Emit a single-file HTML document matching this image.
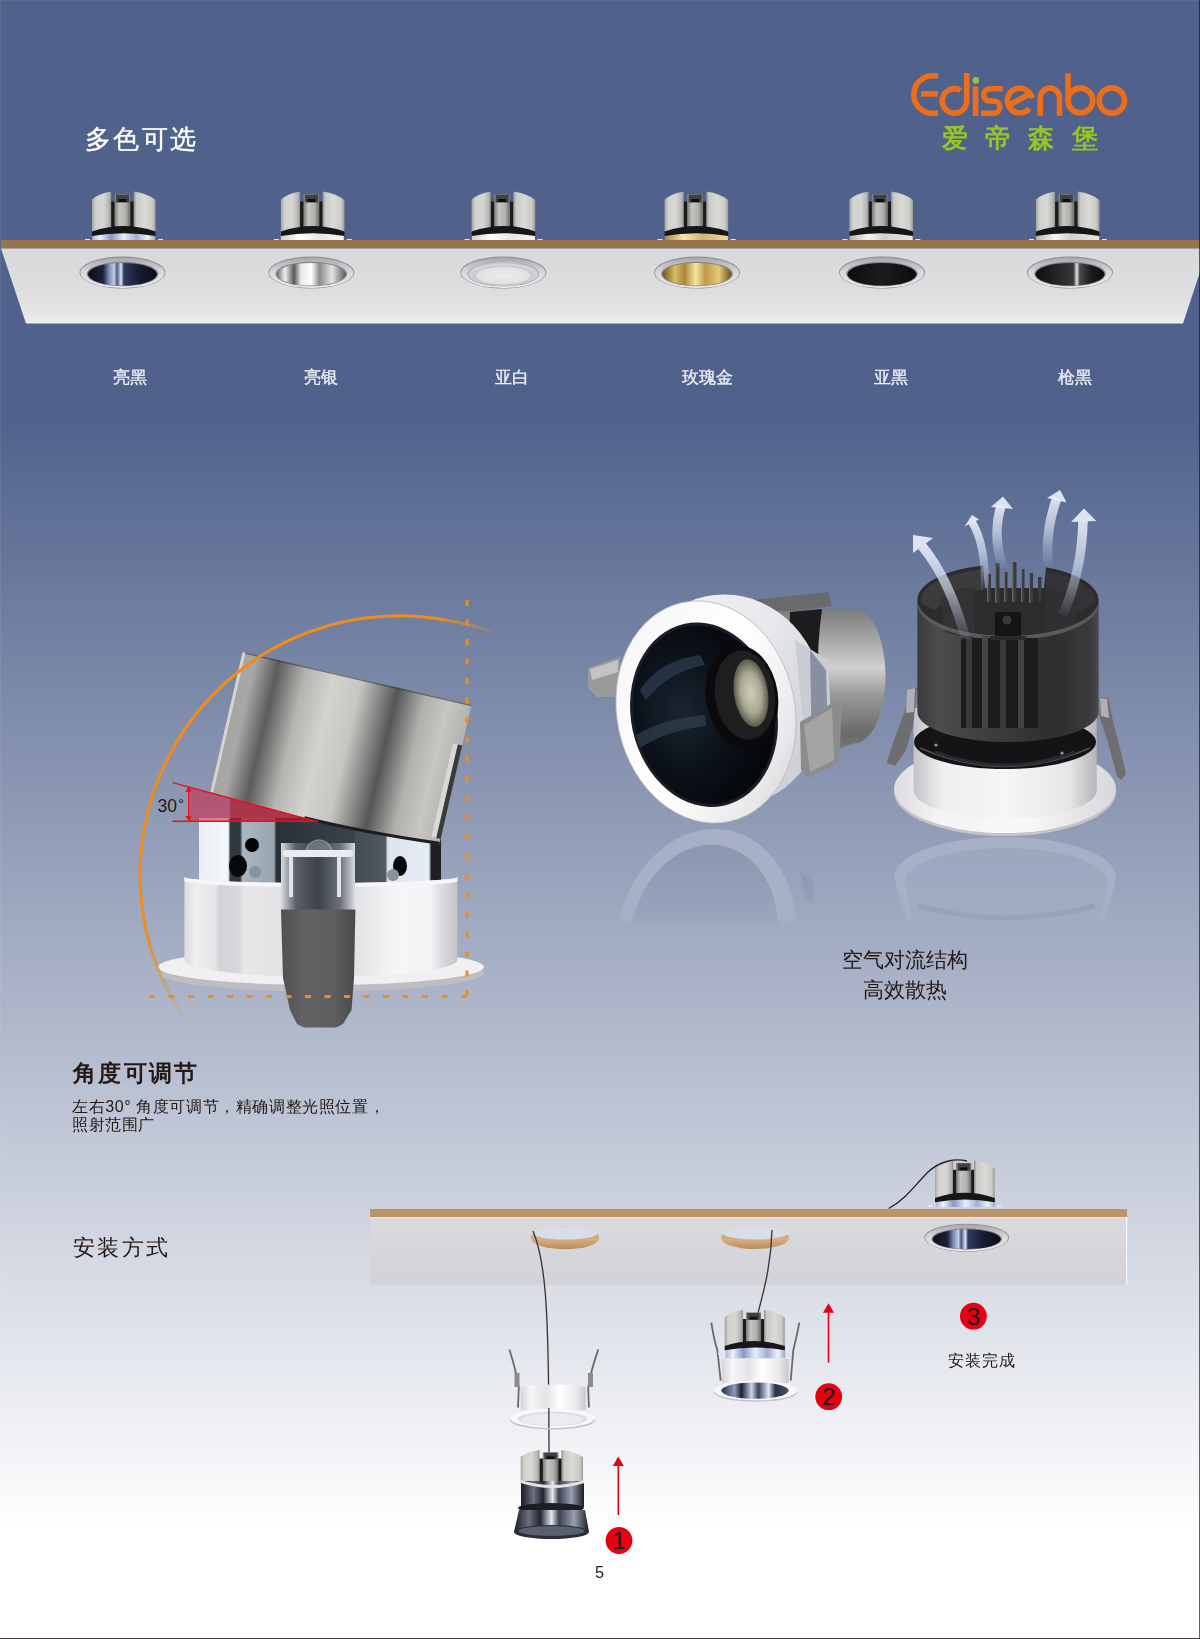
<!DOCTYPE html>
<html><head><meta charset="utf-8">
<style>
html,body{margin:0;padding:0;}
body{width:1200px;height:1639px;overflow:hidden;position:relative;font-family:"Liberation Sans",sans-serif;
background:linear-gradient(180deg,#50628c 0px,#50628c 415px,#ffffff 1530px,#ffffff 1639px);}
svg{position:absolute;left:0;top:0;}
.t{position:absolute;white-space:nowrap;line-height:1;}
.lab{font-size:17px;color:#eceef4;-webkit-text-stroke:0.35px #eceef4;}
</style></head>
<body>
<svg width="1200" height="1639" viewBox="0 0 1200 1639">
<defs>
  <linearGradient id="panelG" x1="0" y1="0" x2="0" y2="1">
    <stop offset="0" stop-color="#d9d9dc"/><stop offset="0.6" stop-color="#dedee1"/><stop offset="0.93" stop-color="#e8e8ea"/><stop offset="1" stop-color="#f0f0f2"/>
  </linearGradient>
  <linearGradient id="panel2G" x1="0" y1="0" x2="0" y2="1">
    <stop offset="0" stop-color="#dad9de"/><stop offset="1" stop-color="#d3d2d7"/>
  </linearGradient>
  <linearGradient id="cylG" x1="0" y1="0" x2="1" y2="0">
    <stop offset="0" stop-color="#8e8e8a"/><stop offset="0.12" stop-color="#dcdcd8"/><stop offset="0.3" stop-color="#b4b4b0"/>
    <stop offset="0.36" stop-color="#6a6a68"/><stop offset="0.64" stop-color="#6a6a68"/>
    <stop offset="0.7" stop-color="#b8b8b4"/><stop offset="0.85" stop-color="#dcdcd8"/><stop offset="1" stop-color="#8e8e8a"/>
  </linearGradient>
  <linearGradient id="rimG" x1="0" y1="0" x2="0" y2="1">
    <stop offset="0" stop-color="#a8a8ac"/><stop offset="0.45" stop-color="#d6d6da"/><stop offset="1" stop-color="#ececee"/>
  </linearGradient>
  <linearGradient id="tiltG" x1="0" y1="0" x2="1" y2="0">
    <stop offset="0" stop-color="#a4a4a2"/><stop offset="0.06" stop-color="#a8a8a6"/><stop offset="0.16" stop-color="#5c5c5e"/><stop offset="0.28" stop-color="#b4b4b0"/>
    <stop offset="0.4" stop-color="#d2d2ce"/><stop offset="0.52" stop-color="#c6c6c2"/><stop offset="0.68" stop-color="#565658"/><stop offset="0.8" stop-color="#b0b0ac"/>
    <stop offset="0.9" stop-color="#c6c6c2"/><stop offset="1" stop-color="#b2b2b0"/>
  </linearGradient>
  <linearGradient id="whiteRingG" x1="0" y1="0" x2="1" y2="0">
    <stop offset="0" stop-color="#dcdce0"/><stop offset="0.04" stop-color="#eeeef0"/><stop offset="0.11" stop-color="#e6e6e8"/><stop offset="0.13" stop-color="#d2d2d6"/>
    <stop offset="0.2" stop-color="#d8d8dc"/><stop offset="0.22" stop-color="#e8e8ea"/><stop offset="0.35" stop-color="#e2e2e4"/><stop offset="0.62" stop-color="#e2e2e4"/>
    <stop offset="0.78" stop-color="#f6f6f8"/><stop offset="0.9" stop-color="#f4f4f6"/><stop offset="0.95" stop-color="#d8d8dc"/><stop offset="1" stop-color="#c4c4c8"/>
  </linearGradient>
  <linearGradient id="arcFade" gradientUnits="userSpaceOnUse" x1="400" y1="610" x2="300" y2="1030">
    <stop offset="0" stop-color="#f08a1e"/><stop offset="0.75" stop-color="#f08a1e"/><stop offset="1" stop-color="#f08a1e" stop-opacity="0"/>
  </linearGradient>

  <linearGradient id="cylL" x1="0" y1="0" x2="1" y2="0">
    <stop offset="0" stop-color="#a4a4a0"/><stop offset="0.2" stop-color="#d2d2ce"/><stop offset="0.6" stop-color="#d6d6d2"/><stop offset="0.9" stop-color="#b4b4b0"/><stop offset="1" stop-color="#8a8a88"/>
  </linearGradient>
  <linearGradient id="cylR" x1="0" y1="0" x2="1" y2="0">
    <stop offset="0" stop-color="#8a8a88"/><stop offset="0.12" stop-color="#c8c8c4"/><stop offset="0.5" stop-color="#dadad6"/><stop offset="0.85" stop-color="#cacac6"/><stop offset="1" stop-color="#9a9a98"/>
  </linearGradient>
  <linearGradient id="brkG" x1="0" y1="0" x2="1" y2="0">
    <stop offset="0" stop-color="#7a7a78"/><stop offset="0.3" stop-color="#c4c4c0"/><stop offset="0.7" stop-color="#b0b0ac"/><stop offset="1" stop-color="#6a6a68"/>
  </linearGradient>
  <linearGradient id="chromeB" x1="0" y1="0" x2="1" y2="0">
    <stop offset="0" stop-color="#aab6d8"/><stop offset="0.12" stop-color="#eef2ff"/><stop offset="0.3" stop-color="#8a98c0"/><stop offset="0.5" stop-color="#e8eeff"/><stop offset="0.7" stop-color="#a0aed0"/><stop offset="0.88" stop-color="#eef2ff"/><stop offset="1" stop-color="#98a4c8"/>
  </linearGradient>
  <linearGradient id="chromeW" x1="0" y1="0" x2="1" y2="0">
    <stop offset="0" stop-color="#d0d0d2"/><stop offset="0.3" stop-color="#ffffff"/><stop offset="0.6" stop-color="#e6e6e8"/><stop offset="1" stop-color="#f4f4f4"/>
  </linearGradient>
  <linearGradient id="chromeG" x1="0" y1="0" x2="1" y2="0">
    <stop offset="0" stop-color="#a88a48"/><stop offset="0.3" stop-color="#f4e6b0"/><stop offset="0.6" stop-color="#d0b470"/><stop offset="1" stop-color="#ecdaa0"/>
  </linearGradient>
  <linearGradient id="chromeK" x1="0" y1="0" x2="1" y2="0">
    <stop offset="0" stop-color="#b8b8bc"/><stop offset="0.3" stop-color="#f4f4f6"/><stop offset="0.55" stop-color="#d0d0d4"/><stop offset="1" stop-color="#e8e8ea"/>
  </linearGradient>
  <linearGradient id="in_blk" x1="0" y1="0" x2="1" y2="0">
    <stop offset="0" stop-color="#0c0e18"/><stop offset="0.22" stop-color="#1c2238"/><stop offset="0.3" stop-color="#7888b0"/><stop offset="0.38" stop-color="#c0cce8"/><stop offset="0.42" stop-color="#4a5880"/><stop offset="0.48" stop-color="#dce4f8"/><stop offset="0.52" stop-color="#303a5c"/><stop offset="0.75" stop-color="#161c30"/><stop offset="1" stop-color="#0a0c16"/>
  </linearGradient>
  <linearGradient id="in_slv" x1="0" y1="0" x2="1" y2="0">
    <stop offset="0" stop-color="#6a6a6c"/><stop offset="0.12" stop-color="#eeeeee"/><stop offset="0.25" stop-color="#58585a"/><stop offset="0.35" stop-color="#e8e8e8"/><stop offset="0.5" stop-color="#ffffff"/><stop offset="0.62" stop-color="#8a8a8c"/><stop offset="0.8" stop-color="#e4e4e4"/><stop offset="1" stop-color="#5a5a5c"/>
  </linearGradient>
  <radialGradient id="in_wht" cx="0.5" cy="0.55" r="0.5">
    <stop offset="0" stop-color="#ececee"/><stop offset="0.75" stop-color="#e2e2e4"/><stop offset="0.85" stop-color="#c8c8cc"/><stop offset="1" stop-color="#d8d8da"/>
  </radialGradient>
  <linearGradient id="in_gld" x1="0" y1="0" x2="1" y2="0">
    <stop offset="0" stop-color="#6e5416"/><stop offset="0.18" stop-color="#d8bc64"/><stop offset="0.32" stop-color="#a88838"/><stop offset="0.48" stop-color="#f6e6a0"/><stop offset="0.62" stop-color="#c09a48"/><stop offset="0.82" stop-color="#e4c87a"/><stop offset="1" stop-color="#6a5014"/>
  </linearGradient>
  <linearGradient id="in_mbk" x1="0" y1="0" x2="1" y2="0">
    <stop offset="0" stop-color="#0c0c0e"/><stop offset="0.5" stop-color="#1c1c1e"/><stop offset="1" stop-color="#0c0c0e"/>
  </linearGradient>
  <linearGradient id="in_gun" x1="0" y1="0" x2="1" y2="0">
    <stop offset="0" stop-color="#0e0e10"/><stop offset="0.4" stop-color="#2c2c2e"/><stop offset="0.55" stop-color="#3a3a3c"/><stop offset="0.6" stop-color="#e6e6e6"/><stop offset="0.64" stop-color="#4a4a4c"/><stop offset="0.8" stop-color="#1c1c1e"/><stop offset="1" stop-color="#0c0c0e"/>
  </linearGradient>
  <g id="ftop">
    <rect x="19" y="10" width="23" height="29" fill="#1a1a1c"/>
    <rect x="22.5" y="2.8" width="16" height="34" fill="url(#brkG)"/>
    <rect x="24" y="3" width="13" height="8" fill="#404042"/>
    <rect x="26.5" y="7.5" width="8" height="3" fill="#0e0e10"/>
    <path d="M0,8 Q7,2 19.2,0 L19.2,37 L0,40 Z" fill="url(#cylL)"/>
    <path d="M41.6,0 Q56,2 63.6,8.6 L63.6,40 L41.6,37 Z" fill="url(#cylR)"/>
  </g>
  <g id="fband">
    <path d="M0,40 Q31.8,28.9 63.6,40 L63.6,44.6 Q31.8,38.8 0,44.6 Z" fill="#161618"/>
    <rect x="-7" y="47.5" width="5" height="2" fill="#e4e4e8"/>
    <rect x="66" y="47.5" width="5" height="2" fill="#e4e4e8"/>
  </g>
  <g id="ring">
    <ellipse cx="0" cy="0" rx="43" ry="16" fill="#8e8e92"/>
    <ellipse cx="0" cy="0.2" rx="42.2" ry="15.2" fill="url(#rimG)"/>
    <ellipse cx="0" cy="1.5" rx="35.8" ry="12.2" fill="#84848a"/>
  </g>

  <linearGradient id="chromeMid" x1="0" y1="0" x2="1" y2="0">
    <stop offset="0" stop-color="#e8eef4"/><stop offset="0.12" stop-color="#f4f8fc"/><stop offset="0.13" stop-color="#303840"/><stop offset="0.17" stop-color="#303840"/>
    <stop offset="0.18" stop-color="#aab6c2"/><stop offset="0.31" stop-color="#98a4b0"/><stop offset="0.32" stop-color="#2a3038"/><stop offset="0.64" stop-color="#3a424c"/>
    <stop offset="0.65" stop-color="#444c56"/><stop offset="0.77" stop-color="#505862"/><stop offset="0.78" stop-color="#dce4ee"/><stop offset="0.95" stop-color="#e6ecf4"/><stop offset="0.96" stop-color="#1e2024"/><stop offset="1" stop-color="#1e2024"/>
  </linearGradient>
  <linearGradient id="clipG" x1="0" y1="0" x2="1" y2="0">
    <stop offset="0" stop-color="#505052"/><stop offset="0.3" stop-color="#626264"/><stop offset="0.7" stop-color="#5e5e60"/><stop offset="1" stop-color="#4a4a4c"/>
  </linearGradient>
  <linearGradient id="springG" x1="0" y1="0" x2="1" y2="0">
    <stop offset="0" stop-color="#d8dde4"/><stop offset="0.2" stop-color="#5a6068"/><stop offset="0.5" stop-color="#3c4248"/><stop offset="0.8" stop-color="#6a7078"/><stop offset="1" stop-color="#d8dde4"/>
  </linearGradient>
  <linearGradient id="flangeG" x1="0" y1="0" x2="0" y2="1">
    <stop offset="0" stop-color="#f6f6f8"/><stop offset="0.55" stop-color="#ececee"/><stop offset="0.7" stop-color="#c4c4c8"/><stop offset="1" stop-color="#d8d8dc"/>
  </linearGradient>
  <linearGradient id="arcTail" gradientUnits="userSpaceOnUse" x1="430" y1="0" x2="492" y2="0">
    <stop offset="0" stop-color="#f08c1c"/><stop offset="1" stop-color="#f08c1c" stop-opacity="0.25"/>
  </linearGradient>
  <linearGradient id="arcLow" gradientUnits="userSpaceOnUse" x1="0" y1="930" x2="0" y2="1026">
    <stop offset="0" stop-color="#f08c1c"/><stop offset="1" stop-color="#f08c1c" stop-opacity="0"/>
  </linearGradient>

  <linearGradient id="grayCylG" x1="0" y1="0" x2="0" y2="1">
    <stop offset="0" stop-color="#7a7a7a"/><stop offset="0.2" stop-color="#a8a8a6"/><stop offset="0.38" stop-color="#d0d0ce"/><stop offset="0.55" stop-color="#9a9a98"/><stop offset="0.8" stop-color="#6a6a6a"/><stop offset="1" stop-color="#828282"/>
  </linearGradient>
  <linearGradient id="fRingG" x1="0" y1="0" x2="1" y2="1">
    <stop offset="0" stop-color="#f4f4f6"/><stop offset="0.5" stop-color="#ffffff"/><stop offset="0.8" stop-color="#e8e8ea"/><stop offset="1" stop-color="#c8c8cc"/>
  </linearGradient>
  <radialGradient id="fInnerG" cx="0.35" cy="0.45" r="0.65">
    <stop offset="0" stop-color="#1a2430"/><stop offset="0.5" stop-color="#0c121a"/><stop offset="1" stop-color="#04060a"/>
  </radialGradient>
  <radialGradient id="lensG" cx="0.5" cy="0.5" r="0.5">
    <stop offset="0" stop-color="#cfcfb8"/><stop offset="0.6" stop-color="#a8a894"/><stop offset="1" stop-color="#5a5a4c"/>
  </radialGradient>
  <linearGradient id="blkCylG" x1="0" y1="0" x2="1" y2="0">
    <stop offset="0" stop-color="#3a3a3c"/><stop offset="0.12" stop-color="#4c4c4e"/><stop offset="0.4" stop-color="#3e3e40"/><stop offset="0.75" stop-color="#2e2e30"/><stop offset="0.95" stop-color="#3a3a3c"/><stop offset="1" stop-color="#4a4a4c"/>
  </linearGradient>
  <linearGradient id="baseG" x1="0" y1="0" x2="1" y2="0">
    <stop offset="0" stop-color="#c4c4c8"/><stop offset="0.15" stop-color="#eeeef0"/><stop offset="0.5" stop-color="#f6f6f8"/><stop offset="0.85" stop-color="#e6e6e8"/><stop offset="1" stop-color="#b4b4b8"/>
  </linearGradient>
  <linearGradient id="arrG" x1="0" y1="0" x2="0" y2="1">
    <stop offset="0" stop-color="#e6edf8" stop-opacity="0.92"/><stop offset="0.45" stop-color="#dbe4f2" stop-opacity="0.65"/><stop offset="1" stop-color="#c8d4ea" stop-opacity="0.05"/>
  </linearGradient>
  <linearGradient id="reflFade" x1="0" y1="0" x2="0" y2="1">
    <stop offset="0" stop-color="#ffffff" stop-opacity="0.13"/><stop offset="1" stop-color="#ffffff" stop-opacity="0"/>
  </linearGradient>
  <linearGradient id="reflDark" x1="0" y1="0" x2="0" y2="1">
    <stop offset="0" stop-color="#3a4660" stop-opacity="0.08"/><stop offset="1" stop-color="#3a4660" stop-opacity="0"/>
  </linearGradient>

  <linearGradient id="holeG" x1="0" y1="0" x2="0" y2="1">
    <stop offset="0" stop-color="#c09468"/><stop offset="0.55" stop-color="#d8b080"/><stop offset="1" stop-color="#b88c5c"/>
  </linearGradient>
  <linearGradient id="collarG" x1="0" y1="0" x2="1" y2="0">
    <stop offset="0" stop-color="#d4d4d8"/><stop offset="0.15" stop-color="#f6f6f8"/><stop offset="0.4" stop-color="#e4e4e8"/><stop offset="0.6" stop-color="#ffffff"/><stop offset="0.85" stop-color="#eaeaec"/><stop offset="1" stop-color="#c8c8cc"/>
  </linearGradient>
  <linearGradient id="reflC" x1="0" y1="0" x2="1" y2="0">
    <stop offset="0" stop-color="#2a3040"/><stop offset="0.2" stop-color="#8a9ab8"/><stop offset="0.3" stop-color="#1c2230"/><stop offset="0.45" stop-color="#c8d4ec"/><stop offset="0.55" stop-color="#3a4458"/><stop offset="0.7" stop-color="#dfe6f4"/><stop offset="0.8" stop-color="#2a3244"/><stop offset="1" stop-color="#4a5468"/>
  </linearGradient>
  <linearGradient id="reflK" x1="0" y1="0" x2="1" y2="0">
    <stop offset="0" stop-color="#1a1c22"/><stop offset="0.2" stop-color="#6a7080"/><stop offset="0.35" stop-color="#20242c"/><stop offset="0.5" stop-color="#e4e8f0"/><stop offset="0.6" stop-color="#3a4050"/><stop offset="0.8" stop-color="#9aa0b0"/><stop offset="1" stop-color="#1a1c22"/>
  </linearGradient>
  <linearGradient id="collarF" x1="0" y1="0" x2="1" y2="1">
    <stop offset="0" stop-color="#f4f4f6"/><stop offset="0.5" stop-color="#e8e8ec"/><stop offset="0.75" stop-color="#d4d6dc"/><stop offset="1" stop-color="#c4c6cc"/>
  </linearGradient>
  <linearGradient id="reflMaskG" gradientUnits="userSpaceOnUse" x1="0" y1="826" x2="0" y2="926">
    <stop offset="0" stop-color="#343434"/><stop offset="0.6" stop-color="#242424"/><stop offset="0.93" stop-color="#121212"/><stop offset="1" stop-color="#000000"/>
  </linearGradient>
  <mask id="reflMask" maskUnits="userSpaceOnUse" x="580" y="820" width="580" height="110">
    <rect x="580" y="820" width="580" height="110" fill="url(#reflMaskG)"/>
  </mask>
  <linearGradient id="flG2" x1="0" y1="0" x2="1" y2="0">
    <stop offset="0" stop-color="#dcdce0"/><stop offset="0.2" stop-color="#f4f4f6"/><stop offset="0.6" stop-color="#f8f8fa"/><stop offset="1" stop-color="#d8d8dc"/>
  </linearGradient>
</defs>


<!-- ===== LOGO ===== -->
<g fill="none" stroke="#ee6d1b" stroke-width="5.6">
  <path d="M938,75.8 H932.55 A18.75,18.75 0 0 0 932.55,113.3 H938"/>
  <path d="M921,93.9 H938"/>
  <path d="M966.7,73 V100.95 A12.25,12.25 0 1 1 960.6,90.3"/>
  <path d="M975.6,86.3 V116"/>
  <path d="M1002.7,88.8 H989.9 A6.1,6.1 0 0 0 989.9,101 H993.8 A6.1,6.1 0 0 1 993.8,113.2 H981"/>
  <path d="M1032,98.35 A12.4,12.4 0 1 0 1029.3,108.5"/>
  <path d="M1010.5,104.5 L1031,93"/>
  <path d="M1040.2,115.7 V97.75 A9.65,9.65 0 0 1 1059.5,97.75 V115.7"/>
  <path d="M1068,73.4 V101"/>
  <circle cx="1080.4" cy="100.5" r="12.4"/>
  <circle cx="1111.85" cy="100.5" r="12.65"/>
</g>
<circle cx="975.8" cy="80.4" r="3.3" fill="#8cc63f"/>

<!-- ===== PANEL 1 ===== -->
<rect x="92.3" y="229" width="63" height="12" fill="url(#chromeB)"/>
<use href="#ftop" x="92" y="191.5"/>
<use href="#fband" x="92" y="191.5"/>
<rect x="280.8" y="229" width="63" height="12" fill="url(#chromeW)"/>
<use href="#ftop" x="280.9" y="191.5"/>
<use href="#fband" x="280.9" y="191.5"/>
<rect x="471.9" y="229" width="63" height="12" fill="url(#chromeW)"/>
<use href="#ftop" x="471.6" y="191.5"/>
<use href="#fband" x="471.6" y="191.5"/>
<rect x="664.9" y="229" width="63" height="12" fill="url(#chromeG)"/>
<use href="#ftop" x="664.6" y="191.5"/>
<use href="#fband" x="664.6" y="191.5"/>
<rect x="849.7" y="229" width="63" height="12" fill="url(#chromeK)"/>
<use href="#ftop" x="849.4" y="191.5"/>
<use href="#fband" x="849.4" y="191.5"/>
<rect x="1036.2" y="229" width="63" height="12" fill="url(#chromeK)"/>
<use href="#ftop" x="1035.9" y="191.5"/>
<use href="#fband" x="1035.9" y="191.5"/>
<rect x="1" y="240" width="1199" height="8.5" fill="#98744c"/>
<polygon points="1,248.5 1200,248.5 1200,272 1183,323.5 26,323.5" fill="url(#panelG)"/>
<use href="#ring" x="122.5" y="272.5"/>
<ellipse cx="122.5" cy="274.2" rx="34.5" ry="11.3" fill="url(#in_blk)"/>
<use href="#ring" x="311.3" y="272.5"/>
<ellipse cx="311.3" cy="274.2" rx="34.5" ry="11.3" fill="url(#in_slv)"/>
<use href="#ring" x="503.3" y="272.5"/>
<ellipse cx="503.3" cy="273.9" rx="35.8" ry="12.2" fill="#bfbfc4"/>
<ellipse cx="503.3" cy="274.4" rx="34" ry="11" fill="url(#in_wht)"/>
<use href="#ring" x="697" y="272.5"/>
<ellipse cx="697" cy="274.2" rx="34.5" ry="11.3" fill="url(#in_gld)"/>
<use href="#ring" x="882" y="272.5"/>
<ellipse cx="882" cy="274.2" rx="34.5" ry="11.3" fill="url(#in_mbk)"/>
<use href="#ring" x="1070" y="272.5"/>
<ellipse cx="1070" cy="274.2" rx="34.5" ry="11.3" fill="url(#in_gun)"/>


<!-- ===== TILT DIAGRAM ===== -->
<g id="tilt">
  <rect x="199" y="818" width="242" height="66" fill="url(#chromeMid)"/>
  <ellipse cx="238" cy="866" rx="9" ry="11" fill="#08090a"/>
  <ellipse cx="400" cy="866" rx="7" ry="10" fill="#08090a"/>
  <circle cx="255" cy="872" r="6" fill="#8a929c"/><circle cx="393" cy="875" r="6" fill="#8a929c"/>
  <circle cx="252" cy="845" r="7" fill="#050505"/>
  <ellipse cx="321" cy="973" rx="163" ry="18.5" fill="#bdbdc2"/>
  <ellipse cx="321" cy="967" rx="163" ry="18" fill="#f0f0f2"/>
  <path d="M184.4,877 L184.4,960 A136.5,17 0 0 0 457.4,960 L457.4,877 A136.5,6 0 0 1 184.4,877 Z" fill="url(#whiteRingG)"/>
  <path d="M184.4,877 A136.5,6 0 0 0 457.4,877 L457.4,881 A136.5,6 0 0 1 184.4,881 Z" fill="#f6f6f8"/>
  <rect x="281" y="843" width="74" height="68" fill="url(#springG)"/>
  <path d="M305,856 A14,16 0 0 1 333,856 Z" fill="#8a9098" opacity="0.6" stroke="#c8d0d8" stroke-width="1.2"/>
  <rect x="283" y="850" width="70" height="7" rx="3" fill="#e8ecf0"/>
  <rect x="289" y="857" width="4" height="40" fill="#e0e4ea"/><rect x="337" y="857" width="4" height="40" fill="#e0e4ea"/>
  <path d="M281,909.5 L355.4,909.5 L354,978 L351.5,1010 L343,1024 L336,1027.5 L304,1027.5 L297,1024 L290,1010 L283,978 Z" fill="url(#clipG)"/>
  <g transform="translate(341,748.2) rotate(13)">
    <path d="M-117.5,-71.75 L117.5,-71.75 L117.5,71.75 Q-20,82 -117.5,71.75 Z" fill="url(#tiltG)"/>
    <path d="M117.5,70.5 Q40,77 -20,76" fill="none" stroke="#1e1e20" stroke-width="3"/>
    <rect x="-117.5" y="-71.75" width="235" height="1.5" fill="#3a3a3c" opacity="0.6"/>
    <rect x="-117.5" y="-71.75" width="3" height="143.5" fill="#e8e8e6" opacity="0.7"/>
    <rect x="108" y="-30" width="5" height="96" fill="#d8d8d4"/>
    <rect x="113" y="-30" width="4.5" height="96" fill="#3a3a3a"/>
  </g>
  <polygon points="188.5,786.5 316,821 188.5,821" fill="#d02040" opacity="0.55"/>
  <polygon points="230,798 316,821 230,821" fill="#a01020" opacity="0.45"/>
  <line x1="172.5" y1="782.6" x2="318" y2="822" stroke="#e8101c" stroke-width="1.4"/>
  <line x1="172.5" y1="821.3" x2="318" y2="821.3" stroke="#e8101c" stroke-width="1.4"/>
  <line x1="188.5" y1="790" x2="188.5" y2="818" stroke="#e8101c" stroke-width="1"/>
  <polygon points="185.5,792 191.5,792 188.5,786" fill="#e8101c"/>
  <polygon points="185.5,816 191.5,816 188.5,821" fill="#e8101c"/>
  <text x="157.5" y="812" font-size="17.5" fill="#231815" font-family="Liberation Sans, sans-serif">30</text>
  <text x="178" y="808.5" font-size="15" fill="#231815" font-family="Liberation Sans, sans-serif">°</text>
  <path d="M478,627 A259,259 0 0 0 445,620" fill="none" stroke="url(#arcTail)" stroke-width="3"/>
  <path d="M491,632.2 A259,259 0 0 0 478,627" fill="none" stroke="#f08c1c" stroke-opacity="0.3" stroke-width="2.5"/>
  <path d="M445,620 A259,259 0 0 0 146,930" fill="none" stroke="#f08c1c" stroke-width="3"/>
  <path d="M146,930 A259,259 0 0 0 189.4,1025.2" fill="none" stroke="url(#arcLow)" stroke-width="3"/>
  <line x1="467" y1="600" x2="467" y2="997" stroke="#f08c1c" stroke-width="3" stroke-dasharray="6 13.5"/>
  <line x1="149" y1="996.5" x2="470" y2="996.5" stroke="#f08c1c" stroke-width="3" stroke-dasharray="6 13.5"/>
</g>


<!-- ===== RIGHT FIXTURES ===== -->
<g id="refl" mask="url(#reflMask)">
  <ellipse cx="706" cy="940" rx="89" ry="112" transform="rotate(12 706 940)" fill="#ffffff"/>
  <ellipse cx="704" cy="937" rx="73" ry="93" transform="rotate(12 704 937)" fill="#6a7694"/>
  <path d="M894,877 A111,40 0 0 1 1116,877 L1100,944 L913,944 Z" fill="#ffffff"/>
  <path d="M905,882 A101,34 0 0 1 1107,882 L1095,944 L918,944 Z" fill="#c4cadc"/>
  <path d="M918,906 Q1006,930 1095,906" stroke="#5a6684" stroke-width="5" fill="none"/>
  <path d="M800,872 L812,880 L815,905 L805,900 Z" fill="#5a6684"/>
</g>
<g id="front">
  <path d="M588,668 L620,657 L621,697 L597,697 L588,688 Z" fill="#9a9a9c"/>
  <path d="M590,669 L618,660 L618,672 L592,680 Z" fill="#c4c4c6"/>
  <path d="M753,600 L828,592 L832,606 L760,616 Z" fill="#6a6a6c"/>
  <path d="M753,612 L853,609 A31,67 0 0 1 856,743 L790,764 L760,740 Z" fill="url(#grayCylG)"/>
  <path d="M790,612 L822,609 Q812,680 826,748 L800,760 Q786,690 790,612 Z" fill="#1c1c1e"/>
  <ellipse cx="728" cy="700" rx="96" ry="106" transform="rotate(-12 728 700)" fill="url(#collarF)"/>
  <path d="M795,640 L828,660 L832,740 L808,770 Z" fill="#c8ccd4"/>
  <path d="M810,650 L826,670 L828,735 L812,760 Z" fill="#8890a0"/>
  <path d="M800,722 L834,702 L842,706 L839,762 L808,778 L801,770 Z" fill="#8c8c8e"/>
  <path d="M804,725 L832,708 L834,760 L810,772 Z" fill="#a4a4a6"/>
  <ellipse cx="706" cy="712" rx="89" ry="112" transform="rotate(-12 706 712)" fill="url(#fRingG)"/>
  <ellipse cx="706" cy="712" rx="89" ry="112" transform="rotate(-12 706 712)" fill="none" stroke="#b8b8be" stroke-width="0.8"/>
  <ellipse cx="704" cy="714.7" rx="73" ry="93" transform="rotate(-12 704 714.7)" fill="#1a1e24"/>
  <ellipse cx="704" cy="714.7" rx="70" ry="90" transform="rotate(-12 704 714.7)" fill="url(#fInnerG)"/>
  <path d="M640,690 Q660,660 700,655 L705,665 Q668,672 646,700 Z" fill="#2c3a4a" opacity="0.8"/>
  <path d="M636,735 Q665,718 705,715 L706,726 Q668,730 640,748 Z" fill="#3a4a5a" opacity="0.55"/>
  <ellipse cx="742" cy="697" rx="36" ry="52" transform="rotate(-8 742 697)" fill="#0a0a0c"/>
  <ellipse cx="745" cy="695" rx="30" ry="45" transform="rotate(-8 745 695)" fill="#1e1e20"/>
  <ellipse cx="751" cy="693" rx="17" ry="34" transform="rotate(-8 751 693)" fill="url(#lensG)"/>
</g>
<g id="back">
  <ellipse cx="1005" cy="792" rx="111" ry="44" fill="#c4c4c8"/>
  <ellipse cx="1005" cy="789" rx="111" ry="44" fill="url(#flG2)"/>
  <path d="M913.6,708 L913.6,790 A91.5,29 0 0 0 1096.7,790 L1096.7,708 Z" fill="url(#baseG)"/>
  <ellipse cx="1005" cy="742" rx="91" ry="27" fill="#141416"/>
  <path d="M920,748 Q1005,785 1090,748" fill="none" stroke="#505056" stroke-width="1.5"/>
  <path d="M935,752 Q1005,778 1075,752" fill="none" stroke="#2a2a2e" stroke-width="3"/>
  <circle cx="936" cy="745" r="1.6" fill="#9a9aa0"/><circle cx="1062" cy="753" r="1.6" fill="#9a9aa0"/>
  <path d="M917.4,600 L917.4,712 A90.6,30 0 0 0 1098.6,712 L1098.6,600 Z" fill="url(#blkCylG)"/>
  <path d="M917.4,600 A90.6,36 0 0 1 983,565.4 L985,588 L1044,588 L1046,567.3 A90.6,36 0 0 1 1098.6,600 A90.6,36 0 0 1 917.4,600 Z" fill="#2c2c2e"/>
  <path d="M921,603 A87,33 0 0 1 983,569 L983,590 Q950,592 935,610 Z" fill="#3c3c3e"/>
  <path d="M1046,571 A87,33 0 0 1 1095,603 L1080,612 Q1065,592 1046,590 Z" fill="#343436"/>
  <g fill="#3a3a3c">
    <rect x="987" y="574" width="4" height="28"/><rect x="995" y="563" width="4.5" height="40"/><rect x="1004" y="572" width="3.5" height="30"/>
    <rect x="1012" y="562" width="4.5" height="40"/><rect x="1021" y="569" width="3.5" height="33"/><rect x="1029" y="573" width="4" height="30"/><rect x="1038" y="577" width="3.5" height="25"/>
  </g>
  <g fill="#6a6a6c">
    <rect x="987" y="574" width="1.2" height="28"/><rect x="995" y="563" width="1.3" height="40"/><rect x="1004" y="572" width="1.2" height="30"/>
    <rect x="1012" y="562" width="1.3" height="40"/><rect x="1021" y="569" width="1.2" height="33"/><rect x="1029" y="573" width="1.2" height="30"/>
  </g>
  <path d="M940,600 Q955,585 975,588 L975,640 L945,632 Z" fill="#333335"/>
  <path d="M1045,590 Q1065,588 1078,602 L1075,628 L1045,638 Z" fill="#303032"/>
  <path d="M917.4,600 A90.6,36 0 0 0 1098.6,600 L1098.6,604 A90.6,36 0 0 1 917.4,604 Z" fill="#5a5a5c"/>
  <rect x="961" y="638" width="77" height="90" fill="#1c1c1e"/>
  <rect x="966" y="636" width="6" height="92" fill="#3a3a3c"/><rect x="982" y="636" width="6" height="92" fill="#444446"/>
  <rect x="1000" y="636" width="6" height="92" fill="#3a3a3c"/><rect x="1018" y="636" width="6" height="92" fill="#444446"/>
  <rect x="995" y="612" width="26" height="26" fill="#151517"/>
  <circle cx="1007" cy="620" r="4.5" fill="#3a3a3c"/>
  <rect x="990" y="636" width="36" height="4" fill="#2a2a2c"/>
  <path d="M886.6,763 L893,743 L904,713 L911,689 L917,687.5 L916,700 L913,726 L906,750 L895,766 Z" fill="#6e6e70"/>
  <path d="M907,690 L915,688 L914,712 L906,713 Z" fill="#b0b0b4"/>
  <path d="M1099.6,697 L1108.4,698.5 L1113,721.5 L1121.5,754.5 L1126,774 L1121.5,780 L1117,776.5 L1108.4,743.5 L1099.6,717 Z" fill="#6e6e70"/>
  <path d="M1100,698 L1107,699 L1109,718 L1101,716 Z" fill="#b0b0b4"/>
</g>
<g id="arrows" fill="none" stroke-linecap="butt">
  <path d="M922,546 Q950,580 966,640" stroke="url(#arrG)" stroke-width="9.5"/>
  <path d="M972,522 Q986,545 985,590" stroke="url(#arrG)" stroke-width="8"/>
  <path d="M1001,506 Q992,535 1003,568" stroke="url(#arrG)" stroke-width="9.5"/>
  <path d="M1057,498 Q1045,530 1048,566" stroke="url(#arrG)" stroke-width="9.5"/>
  <path d="M1083,521 Q1082,570 1063,615" stroke="url(#arrG)" stroke-width="9.5"/>
</g>
<g id="arrowheads" fill="#e8eef8" opacity="0.92">
  <polygon points="913,535 913,553 933,538"/>
  <polygon points="972,515 964.5,526.5 979,519.5"/>
  <polygon points="1003,496.5 990.9,507 1013,509"/>
  <polygon points="1060,490 1047,498 1066.6,502.5"/>
  <polygon points="1084,508.5 1071,522 1096.3,521"/>
</g>

<!-- ===== PANEL 2 ===== -->
<rect x="370" y="1209" width="757" height="8" fill="#bb9468"/>
<rect x="370" y="1217" width="757" height="1.2" fill="#e6e6ea"/>
<rect x="370" y="1218" width="757" height="66.8" fill="url(#panel2G)"/>
<rect x="1126" y="1217" width="1.2" height="68" fill="#f4f4f6"/>


<!-- install section -->
<ellipse cx="565" cy="1238" rx="34.3" ry="11.2" fill="url(#holeG)"/>
<ellipse cx="565" cy="1233" rx="32.8" ry="6.6" fill="#d9dde8"/>
<ellipse cx="755" cy="1238" rx="34" ry="11" fill="url(#holeG)"/>
<ellipse cx="755" cy="1233" rx="32.5" ry="6.5" fill="#d9dde8"/>
<!-- installed fixture 3 -->
<g transform="translate(935,1160.4) scale(0.94)">
  <rect x="1" y="37.5" width="63" height="12" fill="url(#chromeB)"/>
  <use href="#ftop"/><use href="#fband"/>
</g>
<use href="#ring" transform="translate(966.7,1237.7) scale(0.985,0.875)"/>
<ellipse cx="966.7" cy="1239.2" rx="34" ry="9.9" fill="url(#in_blk)"/>
<path d="M888.7,1208.5 C905,1200 915,1185 928,1172 C940,1161 955,1158 967,1161" fill="none" stroke="#2a2020" stroke-width="1.3"/>
<!-- wires -->
<path d="M533,1231 C545,1260 549,1300 549,1456" fill="none" stroke="#3a3030" stroke-width="1.3"/>
<path d="M772,1230 C771,1265 764,1290 758,1313" fill="none" stroke="#3a3030" stroke-width="1.3"/>
<!-- fixture 2 (hanging) -->
<path d="M711.3,1322.7 Q714,1340 717.3,1350 L720.7,1380.7" fill="none" stroke="#6a6a6e" stroke-width="1.8"/>
<path d="M799.3,1322.7 Q796,1340 793.3,1350 L790.7,1380.7" fill="none" stroke="#6a6a6e" stroke-width="1.8"/>
<g transform="translate(724.7,1310) scale(0.945,0.9)">
  <rect x="1" y="37.5" width="63" height="16" fill="url(#chromeB)"/>
  <use href="#ftop"/><use href="#fband"/>
</g>
<rect x="722" y="1359" width="66.7" height="24" fill="url(#collarG)"/>
<ellipse cx="755.7" cy="1392.2" rx="41.7" ry="9.5" fill="#c4c4c8"/>
<ellipse cx="755.7" cy="1390.5" rx="41.5" ry="9.8" fill="#f8f8fa"/>
<ellipse cx="755" cy="1390.6" rx="33.7" ry="8.2" fill="url(#reflC)"/>
<!-- fixture 1 (exploded) -->
<path d="M509.4,1349.4 Q516,1370 518.8,1387.6 L518,1407.6" fill="none" stroke="#6a6a6e" stroke-width="1.8"/>
<path d="M598.3,1349.4 Q591,1370 588.2,1387.6 L588.9,1407.6" fill="none" stroke="#6a6a6e" stroke-width="1.8"/>
<rect x="514.5" y="1373" width="5" height="14" fill="#8a8a90"/><rect x="588" y="1373" width="5" height="14" fill="#8a8a90"/>
<path d="M520.7,1388 A32,3.5 0 0 1 585.7,1388 L585.7,1410 L520.7,1410 Z" fill="url(#collarG)"/>
<ellipse cx="552.5" cy="1420" rx="42.5" ry="9.5" fill="#c4c4c8"/>
<ellipse cx="552.5" cy="1418.3" rx="42.3" ry="9.6" fill="#f8f8fa"/>
<ellipse cx="552.5" cy="1418.8" rx="35" ry="7.2" fill="#dedee2"/>
<ellipse cx="552.5" cy="1419.6" rx="31" ry="5.8" fill="#ececf0"/>
<rect x="548.2" y="1408" width="1.3" height="20" fill="#3a3030"/>
<g transform="translate(520.7,1450) scale(0.98,0.85)">
  <use href="#ftop"/>
</g>
<rect x="521" y="1481" width="63" height="26" fill="url(#reflK)"/>
<path d="M520.7,1480 Q552.5,1490 584.5,1480 L584.5,1483 Q552.5,1493 520.7,1483 Z" fill="#e4e4e6"/>
<ellipse cx="551" cy="1508" rx="33" ry="5" fill="#1c1e24"/>
<path d="M519,1510 L585,1510 L589,1532 L514,1532 Z" fill="url(#reflK)"/>
<ellipse cx="551.5" cy="1532" rx="37.5" ry="7" fill="#2a2e38"/>
<ellipse cx="551.5" cy="1531" rx="33" ry="5" fill="#5a6070"/>
<!-- red arrows & circles -->
<line x1="618.3" y1="1515" x2="618.3" y2="1465" stroke="#e60012" stroke-width="1.6"/>
<polygon points="618.3,1456.5 612.8,1466 623.8,1466" fill="#e60012"/>
<line x1="828.5" y1="1362.7" x2="828.5" y2="1311" stroke="#e60012" stroke-width="1.6"/>
<polygon points="828.5,1303.3 823,1312.7 834,1312.7" fill="#e60012"/>
<circle cx="619" cy="1540.5" r="13.4" fill="#e60012"/>
<circle cx="828.7" cy="1396.7" r="13.4" fill="#e60012"/>
<circle cx="973.4" cy="1316.2" r="13.4" fill="#e60012"/>
<text x="619" y="1549" font-size="24" text-anchor="middle" fill="#1a1a1a" font-family="Liberation Sans, sans-serif">1</text>
<text x="828.7" y="1405.2" font-size="24" text-anchor="middle" fill="#1a1a1a" font-family="Liberation Sans, sans-serif">2</text>
<text x="973.4" y="1324.7" font-size="24" text-anchor="middle" fill="#1a1a1a" font-family="Liberation Sans, sans-serif">3</text>
<!-- page borders -->
<rect x="0" y="0" width="1" height="1500" fill="#ffffff" opacity="0.07"/>
<rect x="0" y="0" width="1200" height="1" fill="#ffffff" opacity="0.06"/>
<rect x="1199" y="0" width="1" height="1639" fill="#191212" fill-opacity="0.66"/>
<rect x="0" y="1638" width="1200" height="1" fill="#3e3839"/>
</svg>

<!-- texts -->
<div class="t" style="left:85px;top:126px;font-size:26px;letter-spacing:2.4px;color:#fff;-webkit-text-stroke:0.4px #fff;">多色可选</div>
<div class="t lab" style="left:113px;top:369px;">亮黑</div>
<div class="t lab" style="left:304px;top:369px;">亮银</div>
<div class="t lab" style="left:495px;top:369px;">亚白</div>
<div class="t lab" style="left:682px;top:369px;">玫瑰金</div>
<div class="t lab" style="left:874px;top:369px;">亚黑</div>
<div class="t lab" style="left:1058px;top:369px;">枪黑</div>
<div class="t" style="left:942px;top:125px;font-size:26px;font-weight:bold;color:#97c524;letter-spacing:17.2px;">爱帝森堡</div>
<div class="t" style="left:73px;top:1062px;font-size:23px;font-weight:bold;color:#231815;letter-spacing:2.3px;">角度可调节</div>
<div class="t" style="left:72px;top:1097.5px;font-size:16px;letter-spacing:0.6px;color:#231815;line-height:18px;">左右30°&nbsp;角度可调节，精确调整光照位置，<br>照射范围广</div>
<div class="t" style="left:72.5px;top:1237px;font-size:22px;color:#231815;letter-spacing:2.6px;">安装方式</div>
<div class="t" style="left:842px;top:949.5px;font-size:20.5px;color:#231815;">空气对流结构</div>
<div class="t" style="left:863px;top:980px;font-size:20.5px;color:#231815;">高效散热</div>
<div class="t" style="left:948px;top:1353px;font-size:16px;letter-spacing:1px;color:#231815;">安装完成</div>
<div class="t" style="left:595px;top:1564px;font-size:16.3px;color:#231815;">5</div>
</body></html>
